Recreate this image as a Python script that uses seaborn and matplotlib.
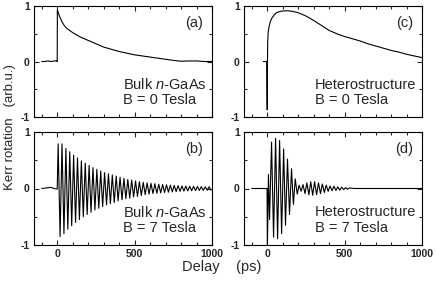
import numpy as np
import seaborn as sns
import matplotlib
matplotlib.use("Agg")
import matplotlib.pyplot as plt
from matplotlib.ticker import MultipleLocator

# Delay in ps, Kerr rotation in arb. units

# (a) bulk n-GaAs, B = 0 T
bulk0_t = [-100, -80, -60, -40, -20, -5, 0, 1, 10, 20, 30, 45, 60, 80, 100, 125, 150,
           175, 200, 250, 300, 350, 400, 450, 500, 550, 600, 650, 700, 750, 800, 850,
           900, 950, 1000]
bulk0_v = [0.0, 0.0, 0.01, 0.0, 0.01, 0.01, 0.0, 0.93, 0.85, 0.78, 0.72, 0.65, 0.6, 0.56,
           0.52, 0.48, 0.44, 0.41, 0.38, 0.32, 0.26, 0.22, 0.18, 0.15, 0.12, 0.1, 0.08,
           0.06, 0.04, 0.02, 0.005, 0.01, 0.01, 0.0, 0.0]

# (b) bulk n-GaAs, B = 7 T  (baseline, then successive extrema of the precession)
bulk7_t = [-100, -70, -40, -20, 0,
           6, 18.5, 31, 43.5, 56, 68.5, 81, 93.5, 106, 118.5, 131, 143.5, 156, 168.5,
           181, 193.5, 206, 218.5, 231, 243.5, 256, 268.5, 281, 293.5, 306, 318.5, 331,
           343.5, 356, 368.5, 381, 393.5, 406, 418.5, 431, 443.5, 456, 468.5, 481, 493.5,
           506, 518.5, 531, 543.5, 556, 568.5, 581, 593.5, 606, 618.5, 631, 643.5, 656,
           668.5, 681, 693.5, 706, 718.5, 731, 743.5, 756, 768.5, 781, 793.5, 806, 818.5,
           831, 843.5, 856, 868.5, 881, 893.5, 906, 918.5, 931, 943.5, 956, 968.5, 981,
           993.5]
bulk7_v = [0.0, 0.01, 0.02, 0.0, -0.01,
           0.79, -0.85, 0.79, -0.80, 0.71, -0.72, 0.65, -0.66, 0.59, -0.60, 0.54, -0.55,
           0.49, -0.50, 0.45, -0.46, 0.41, -0.42, 0.37, -0.38, 0.34, -0.35, 0.31, -0.32,
           0.28, -0.29, 0.26, -0.27, 0.24, -0.25, 0.22, -0.22, 0.20, -0.20, 0.18, -0.18,
           0.16, -0.17, 0.15, -0.15, 0.135, -0.14, 0.12, -0.125, 0.11, -0.11, 0.10, -0.10,
           0.09, -0.09, 0.085, -0.085, 0.075, -0.078, 0.07, -0.07, 0.065, -0.065, 0.06,
           -0.06, 0.055, -0.055, 0.05, -0.05, 0.045, -0.046, 0.042, -0.043, 0.04, -0.04,
           0.037, -0.037, 0.035, -0.035, 0.033, -0.033, 0.03, -0.03, 0.03, -0.03]

# (c) heterostructure, B = 0 T
het0_t = [-25, -3, 0, 1, 3, 6, 12, 20, 30, 45, 60, 80, 100, 130, 160, 200, 250, 300,
          350, 400, 450, 500, 550, 600, 650, 700, 750, 800, 850, 900, 950, 1000]
het0_v = [0.0, 0.0, -0.87, -0.2, 0.35, 0.52, 0.63, 0.72, 0.78, 0.84, 0.88, 0.9, 0.91,
          0.915, 0.905, 0.88, 0.82, 0.74, 0.65, 0.56, 0.5, 0.45, 0.41, 0.37, 0.32, 0.28,
          0.24, 0.2, 0.17, 0.13, 0.1, 0.07]

# (d) heterostructure, B = 7 T (beating precession)
het7_t = [-100, -1, 1, 8, 15, 28, 41, 54, 67, 80, 93, 106, 118, 131, 144, 157, 169, 181,
          194, 206, 219, 231, 244, 256, 269, 281, 294, 306, 319, 331, 344, 356, 369, 381,
          394, 406, 419, 431, 444, 456, 469, 481, 494, 506, 519, 531, 560, 1000]
het7_v = [0.0, 0.0, -1.05, 0.25, -0.55, 0.82, -0.86, 0.89, -0.89, 0.85, -0.80, 0.70,
          -0.65, 0.52, -0.46, 0.35, -0.28, 0.17, -0.10, 0.06, -0.05, 0.07, -0.09, 0.10,
          -0.11, 0.12, -0.12, 0.12, -0.11, 0.10, -0.09, 0.08, -0.07, 0.06, -0.05, 0.045,
          -0.04, 0.04, -0.035, 0.03, -0.03, 0.025, -0.02, 0.015, -0.012, 0.01, 0.0, 0.0]

sns.set_style("ticks")
plt.rcParams['font.family'] = ['Liberation Sans', 'DejaVu Sans']
plt.rcParams['mathtext.fontset'] = 'custom'
plt.rcParams['mathtext.rm'] = 'Liberation Sans'
plt.rcParams['mathtext.it'] = 'Liberation Sans:italic'
plt.rcParams['axes.unicode_minus'] = False

fig = plt.figure(figsize=(4.36, 2.81), dpi=100)
W, H = 436, 281

def box(x0, y0, x1, y1):
    # pixel box -> figure fraction
    return [x0 / W, 1 - y1 / H, (x1 - x0) / W, (y1 - y0) / H]

panels = [
    (bulk0_t, bulk0_v, box(34, 6, 212, 117), "(a)", r"Bulk $n$-GaAs", "B = 0 Tesla", False),
    (het0_t, het0_v, box(244, 6, 422, 117), "(c)", "Heterostructure", "B = 0 Tesla", False),
    (bulk7_t, bulk7_v, box(34, 132, 212, 245), "(b)", r"Bulk $n$-GaAs", "B = 7 Tesla", True),
    (het7_t, het7_v, box(244, 132, 422, 245), "(d)", "Heterostructure", "B = 7 Tesla", True),
]

for t, v, rect, tag, line1, line2, xlab in panels:
    ax = fig.add_axes(rect)
    sns.lineplot(x=t, y=v, ax=ax, color='black', linewidth=0.8,
                 estimator=None, sort=False)
    ax.set_xlim(-150, 1000)
    ax.set_ylim(-1, 1)
    ax.set_xticks([0, 500, 1000])
    ax.set_yticks([-1, 0, 1])
    ax.xaxis.set_minor_locator(MultipleLocator(100))
    ax.yaxis.set_minor_locator(MultipleLocator(0.5))
    ax.tick_params(which='both', direction='in', top=True, right=True, width=0.8,
                   labelsize=7.5, pad=3)
    ax.tick_params(which='major', length=3.5)
    ax.tick_params(which='minor', length=2)
    ax.set_yticklabels(['-1', '0', '1'], fontweight='bold')
    if xlab:
        ax.set_xticklabels(['0', '500', '1000'], fontweight='bold')
    else:
        ax.set_xticklabels([])
    for s in ax.spines.values():
        s.set_linewidth(0.8)
        s.set_color('black')
    left = 0.50 if 'Bulk' in line1 else 0.40
    ax.text(0.95, 0.85, tag, transform=ax.transAxes, ha='right', va='center', fontsize=10.5)
    ax.text(left, 0.29, line1, transform=ax.transAxes, ha='left', va='center', fontsize=10.5)
    ax.text(left, 0.15, line2, transform=ax.transAxes, ha='left', va='center', fontsize=10.5)

fig.text(0.022, 1 - 127 / H, "Kerr rotation   (arb.u.)", rotation=90,
         ha='center', va='center', fontsize=9.5)
fig.text(222 / W, 1 - 267 / H, "Delay    (ps)", ha='center', va='center', fontsize=10.5)

fig.savefig("out.png", dpi=100)
